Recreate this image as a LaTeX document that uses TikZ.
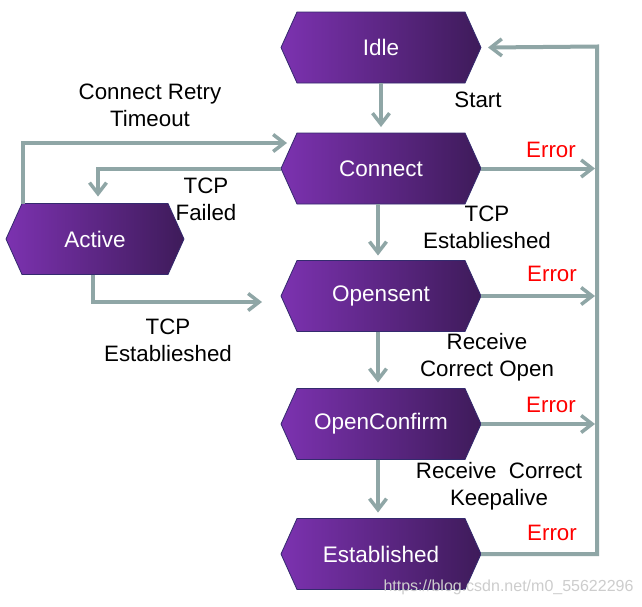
\documentclass[tikz,border=0pt]{standalone}
\usepackage{fontspec}
\setmainfont{Liberation Sans}
\usetikzlibrary{arrows.meta,calc}
\definecolor{lc}{RGB}{143,166,166}
\definecolor{hexL}{RGB}{124,50,176}
\definecolor{hexR}{RGB}{62,27,90}
\definecolor{hexB}{RGB}{52,42,110}
\definecolor{wm}{RGB}{205,205,205}
\newcommand\hexa[5]{% name, x, y, width, text
  \node[hexbox, minimum width=#4] (#1) at (#2,#3) {};
  \shade[hexfill] (#1.west) -- ($(#1.north west)+(16,0)$) -- ($(#1.north east)+(-16,0)$)
    -- (#1.east) -- ($(#1.south east)+(-16,0)$) -- ($(#1.south west)+(16,0)$) -- cycle;
  \node[hextext] at (#1) {#5};}
\begin{document}
\begin{tikzpicture}[x=1pt,y=-1pt,
  conn/.style={draw=lc, line width=4pt, -{Straight Barb[length=11pt,width=17pt,line width=3.5pt]}},
  plain/.style={draw=lc, line width=4pt},
  lbl/.style={font=\fontsize{22.3}{27}\selectfont, align=center, inner sep=0pt},
  err/.style={lbl, text=red},
  hexbox/.style={minimum height=71pt, inner sep=0pt, outer sep=0pt},
  hextext/.style={text=white, font=\fontsize{22.5}{26}\selectfont},
  hexfill/.style={left color=hexL, right color=hexR, draw=hexB, line width=0.8pt}]
\useasboundingbox[fill=white] (0,0) rectangle (642,606);

\hexa{idle}{381}{47.5}{200pt}{Idle}
\hexa{connect}{381}{168.5}{200pt}{Connect}
\hexa{opensent}{381}{296}{200pt}{Opensent}
\hexa{openconfirm}{381}{424}{200pt}{OpenConfirm}
\hexa{established}{381}{554}{200pt}{Established}
\hexa{active}{95}{239}{178pt}{Active}

\coordinate (rtop) at (597,46.5);
\coordinate (retryend) at ($(connect.west)+(6,-25.5)$);
\coordinate (actend) at ($(opensent.west)+(-19,6)$);

% vertical transitions
\draw[conn] (idle.south) -- ([yshift=6pt]connect.north);
\draw[conn] ([xshift=-3pt]connect.south) -- ([xshift=-3pt,yshift=5pt]opensent.north);
\draw[conn] ([xshift=-3pt]opensent.south) -- ([xshift=-3pt,yshift=6pt]openconfirm.north);
\draw[conn] ([xshift=-3pt]openconfirm.south) -- ([xshift=-3pt,yshift=6pt]established.north);

% active loops
\draw[conn] ($(active.north west)+(17,0)$) |- (retryend);
\draw[conn] (connect.west) -| ([xshift=3pt,yshift=7pt]active.north);
\draw[conn] ([xshift=-2pt]active.south) |- (actend);

% error returns
\draw[conn] (established.east) -| (rtop) -- ([xshift=7pt]idle.east);
\draw[conn] (connect.east) -- ($(connect.east -| rtop)+(-2,0)$);
\draw[conn] (opensent.east) -- ($(opensent.east -| rtop)+(-2,0)$);
\draw[conn] (openconfirm.east) -- ($(openconfirm.east -| rtop)+(-2,0)$);

% labels
\node[lbl] (lretry) at (150,105) {Connect Retry\\Timeout};
\node[lbl] (lfail) at (206,199.5) {TCP\\Failed};
\node[lbl] (lest1) at (168,340.5) {TCP\\Establieshed};
\node[lbl] (lstart) at (478,100) {Start};
\node[lbl] (lest2) at (487,227.5) {TCP\\Establieshed};
\node[lbl] (lrco) at (487,357) {Receive\\Correct Open};
\node[lbl] (lrck) at (499,486.5) {Receive\ \ Correct\\Keepalive};
\node[err] (e1) at (551,150) {Error};
\node[err] (e2) at (552,273.5) {Error};
\node[err] (e3) at (551,405) {Error};
\node[err] (e4) at (552,533) {Error};

\node[text=wm, font=\fontsize{16}{18}\selectfont, inner sep=0pt] (wmark) at (508.5,587) {https://blog.csdn.net/m0\_55622296};
\end{tikzpicture}
\end{document}
